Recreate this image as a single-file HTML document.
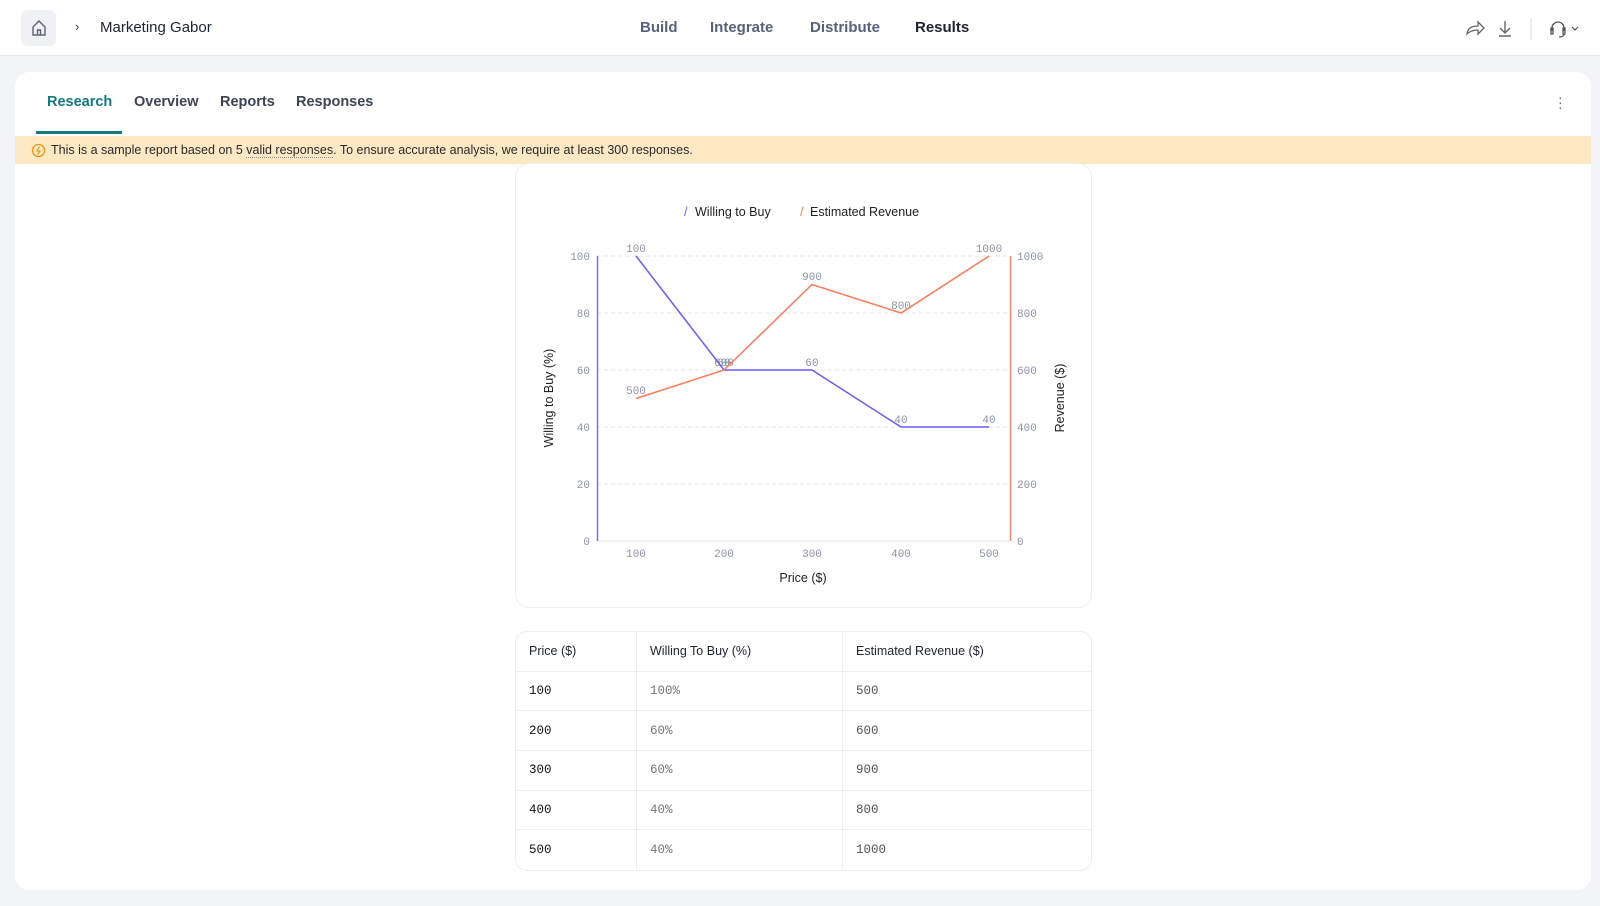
<!DOCTYPE html>
<html><head><meta charset="utf-8"><style>
*{margin:0;padding:0;box-sizing:border-box}
body{width:1600px;height:906px;background:#f3f4f7;font-family:"Liberation Sans",sans-serif;position:relative;overflow:hidden;color:#1d2330}
.abs{position:absolute}
.hdr{left:0;top:0;width:1600px;height:56px;background:#fff;border-bottom:1px solid #e3e5ea}
.nav{top:19px;font-size:15px;font-weight:bold;color:#56627a}
.card{left:15px;top:72px;width:1576px;height:818px;background:#fff;border-radius:14px}
.tab{top:94px;font-size:14.5px;font-weight:bold;color:#3d4452}
.banner{left:15px;top:136px;width:1576px;height:28px;background:#fde8c4;font-size:12.5px;color:#2a2a2a;line-height:28px;padding-left:36px}
.cc{left:515px;top:163px;width:577px;height:445px;border:1px solid #eceef2;border-radius:14px;background:#fff}
table{position:absolute;left:515px;top:631px;width:577px;border-collapse:separate;border-spacing:0;border:1px solid #eceef2;border-radius:12px;font-size:12.5px}
td{height:39.7px;border-bottom:1px solid #eceef2;padding-left:13px;vertical-align:middle}
tr:last-child td{border-bottom:none}
td+td{border-left:1px solid #eceef2}
.m{font-family:"Liberation Mono",monospace}
</style></head><body>
<div class="abs hdr"></div>
<div class="abs" style="left:21px;top:10px;width:35px;height:36px;background:#f0f1f4;border-radius:7px"></div>
<svg class="abs" style="left:29px;top:18px" width="20" height="20" viewBox="0 0 20 20"><path d="M4 9 L10 3 L16 9 V17 H4 Z M8.5 17 V12 H11.5 V17" fill="none" stroke="#5a6272" stroke-width="1.4"/></svg>
<div class="abs" style="left:75px;top:19px;font-size:13px;color:#444">›</div>
<div class="abs" style="left:100px;top:19px;font-size:15px;color:#1d2330">Marketing Gabor</div>
<div class="abs nav" style="left:640px">Build</div>
<div class="abs nav" style="left:710px">Integrate</div>
<div class="abs nav" style="left:810px">Distribute</div>
<div class="abs nav" style="left:915px;color:#1d2330">Results</div>
<svg class="abs" style="left:1460px;top:18px" width="130" height="22">
<path d="M4 16 C5 9 10 8 15 8 V4 L21 10 L15 16 V12 C10 12 7 13 4 16Z" fill="none" stroke="#666" stroke-width="1.3" transform="translate(3,0)"/>
<path d="M45 3 V14 M40 10 L45 15 L50 10 M39 18 H51" fill="none" stroke="#666" stroke-width="1.4"/>
<line x1="71" y1="0" x2="71" y2="22" stroke="#ddd"/>
<path d="M92 13 V10 A6 6 0 0 1 104 10 V13 M91 10 H93 V16 H91Z M103 10 H105 V16 H103Z M104 16 Q104 19 99 19" fill="none" stroke="#555" stroke-width="1.3"/>
<path d="M112 9 L115 12 L118 9" fill="none" stroke="#555" stroke-width="1.2"/>
</svg>
<div class="abs card"></div>
<div class="abs tab" style="left:47px;color:#137a80">Research</div>
<div class="abs tab" style="left:134px">Overview</div>
<div class="abs tab" style="left:220px">Reports</div>
<div class="abs tab" style="left:296px">Responses</div>
<div class="abs" style="left:36px;top:131px;width:86px;height:3px;background:#137a80"></div>
<div class="abs" style="left:1558px;top:95px;width:3px;font-size:14px;line-height:5px;color:#666">·<br>·<br>·</div>
<div class="abs banner">This is a sample report based on 5 <span style="border-bottom:1px dotted #888">valid responses</span>. To ensure accurate analysis, we require at least 300 responses.</div>
<svg class="abs" style="left:31px;top:143px" width="15" height="15"><circle cx="7.5" cy="7.5" r="6" fill="none" stroke="#e8940c" stroke-width="1.3"/><path d="M8.5 3.5 L6 8 H9 L6.5 11.5" fill="none" stroke="#e8940c" stroke-width="1.1"/></svg>
<div class="abs cc"></div>
<svg class="abs" style="left:0;top:0" width="1600" height="906" font-family="Liberation Mono, monospace">
<g font-family="Liberation Sans, sans-serif" font-size="12.5" fill="#222">
<text x="684" y="216" fill="#6a5cff">/</text><text x="695" y="216">Willing to Buy</text>
<text x="800" y="216" fill="#ff7a5a">/</text><text x="810" y="216">Estimated Revenue</text>
<text x="803" y="582" text-anchor="middle">Price ($)</text>
<text transform="translate(553,398) rotate(-90)" text-anchor="middle">Willing to Buy (%)</text>
<text transform="translate(1064,398) rotate(-90)" text-anchor="middle">Revenue ($)</text>
</g>
<g stroke="#e2e4e8" stroke-dasharray="4 3"><line x1="597" x2="1010" y1="256" y2="256"/><line x1="597" x2="1010" y1="313" y2="313"/><line x1="597" x2="1010" y1="370" y2="370"/><line x1="597" x2="1010" y1="427" y2="427"/><line x1="597" x2="1010" y1="484" y2="484"/></g>
<line x1="597" x2="1010" y1="541" y2="541" stroke="#e6e7eb"/>
<line x1="597.5" x2="597.5" y1="256" y2="541" stroke="#7b6cff" stroke-width="1.5"/>
<line x1="1010.5" x2="1010.5" y1="256" y2="541" stroke="#ff8a6e" stroke-width="1.5"/>
<g font-size="11" fill="#8a93a6">
<g text-anchor="end"><text x="590" y="260">100</text><text x="590" y="317">80</text><text x="590" y="374">60</text><text x="590" y="431">40</text><text x="590" y="488">20</text><text x="590" y="545">0</text></g>
<text x="1017" y="260">1000</text><text x="1017" y="317">800</text><text x="1017" y="374">600</text><text x="1017" y="431">400</text><text x="1017" y="488">200</text><text x="1017" y="545">0</text>
<g text-anchor="middle"><text x="636" y="557">100</text><text x="724" y="557">200</text><text x="812" y="557">300</text><text x="901" y="557">400</text><text x="989" y="557">500</text>
<text x="636" y="252">100</text><text x="724" y="366">60</text><text x="812" y="366">60</text><text x="901" y="423">40</text><text x="989" y="423">40</text>
<text x="636" y="394">500</text><text x="724" y="366">600</text><text x="812" y="280">900</text><text x="901" y="309">800</text><text x="989" y="252">1000</text></g>
</g>
<polyline points="636,256 724,370 812,370 901,427 989,427" fill="none" stroke="#6a5cff" stroke-width="1.5"/>
<polyline points="636,398.5 724,370 812,284.5 901,313 989,256" fill="none" stroke="#ff7a5a" stroke-width="1.5"/>
</svg>
<table>
<tr><td style="width:120px">Price ($)</td><td style="width:206px">Willing To Buy (%)</td><td>Estimated Revenue ($)</td></tr>
<tr class="m"><td style="color:#111">100</td><td style="color:#777">100%</td><td style="color:#555">500</td></tr>
<tr class="m"><td style="color:#111">200</td><td style="color:#777">60%</td><td style="color:#555">600</td></tr>
<tr class="m"><td style="color:#111">300</td><td style="color:#777">60%</td><td style="color:#555">900</td></tr>
<tr class="m"><td style="color:#111">400</td><td style="color:#777">40%</td><td style="color:#555">800</td></tr>
<tr class="m"><td style="color:#111">500</td><td style="color:#777">40%</td><td style="color:#555">1000</td></tr>
</table>
</body></html>
